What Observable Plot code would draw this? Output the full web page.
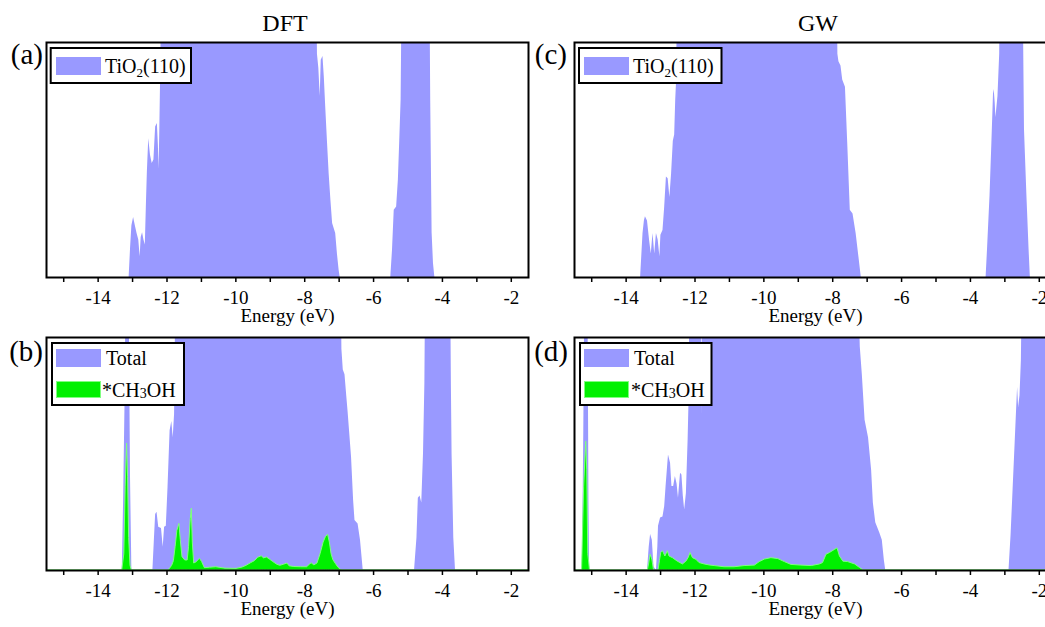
<!DOCTYPE html>
<html>
<head>
<meta charset="utf-8">
<script src="https://cdn.jsdelivr.net/npm/d3@7"></script>
<script src="https://cdn.jsdelivr.net/npm/@observablehq/plot@0.6"></script>
<style>
html, body { margin: 0; padding: 0; background: #fff; overflow: hidden; }
#fig { position: relative; width: 1045px; height: 627px; overflow: hidden; font-family: 'Liberation Serif', serif; }
.p { position: absolute; width: 540px; height: 332px; }
.p svg { max-width: none !important; width: 540px; height: 332px; background: transparent !important; }
.p svg text { font-family: 'Liberation Serif', serif !important; font-size: 19px !important; fill: #000; }
#overlay { position: absolute; left: 0; top: 0; pointer-events: none; }
#overlay text { font-family: 'Liberation Serif', serif; fill: #000; }
</style>
</head>
<body>
<div id="fig">
  <div class="p" id="pa" style="left:0;top:0"></div>
  <div class="p" id="pc" style="left:527.5px;top:0"></div>
  <div class="p" id="pb" style="left:0;top:295px"></div>
  <div class="p" id="pd" style="left:527.5px;top:295px"></div>
  <svg id="overlay" width="1045" height="627">
    <text x="285" y="31" text-anchor="middle" font-size="24">DFT</text>
    <text x="818" y="31" text-anchor="middle" font-size="24">GW</text>
    <text x="43" y="64" text-anchor="end" font-size="29">(a)</text>
    <text x="43" y="361" text-anchor="end" font-size="29">(b)</text>
    <text x="567" y="64" text-anchor="end" font-size="29">(c)</text>
    <text x="568" y="361" text-anchor="end" font-size="29">(d)</text>
    <!-- legend a -->
    <rect x="50.7" y="48" width="140.3" height="35" fill="#fff" stroke="#000" stroke-width="2"/>
    <rect x="56" y="57" width="45" height="18" fill="#9999ff"/>
    <text x="105" y="73" font-size="20">TiO<tspan font-size="13" dy="4">2</tspan><tspan dy="-4">(110)</tspan></text>
    <!-- legend c -->
    <rect x="579" y="48" width="142.5" height="35" fill="#fff" stroke="#000" stroke-width="2"/>
    <rect x="584" y="57" width="45" height="18" fill="#9999ff"/>
    <text x="633" y="73" font-size="20">TiO<tspan font-size="13" dy="4">2</tspan><tspan dy="-4">(110)</tspan></text>
    <!-- legend b -->
    <rect x="52" y="343" width="132" height="62" fill="#fff" stroke="#000" stroke-width="2"/>
    <rect x="56" y="349" width="45" height="18" fill="#9999ff"/>
    <rect x="56.5" y="381.5" width="44" height="16" fill="#00f000" stroke="#80ff80" stroke-width="1"/>
    <text x="106" y="365" font-size="20">Total</text>
    <text x="102" y="397" font-size="20">*CH<tspan font-size="14" dy="1">3</tspan><tspan dy="-1">OH</tspan></text>
    <!-- legend d -->
    <rect x="580" y="343" width="131.5" height="62" fill="#fff" stroke="#000" stroke-width="2"/>
    <rect x="584" y="349" width="45" height="18" fill="#9999ff"/>
    <rect x="584.5" y="381.5" width="44" height="16" fill="#00f000" stroke="#80ff80" stroke-width="1"/>
    <text x="634" y="365" font-size="20">Total</text>
    <text x="631" y="397" font-size="20">*CH<tspan font-size="14" dy="1">3</tspan><tspan dy="-1">OH</tspan></text>
  </svg>
</div>
<script>
// Energy (eV), DOS (arbitrary units; frame top = 100, larger values are clipped)
const dftSlab = [[-15.5,0],[-13.10,0],[-13.06,12],[-13.02,22],[-12.97,25.5],[-12.92,22],[-12.87,18.7],[-12.82,16],[-12.78,8.8],[-12.75,17],[-12.71,19],[-12.67,16],[-12.63,13.8],[-12.60,30],[-12.57,45],[-12.53,59],[-12.48,52],[-12.43,48.5],[-12.38,50],[-12.33,64],[-12.28,65.5],[-12.25,56],[-12.23,46],[-12.21,62],[-12.18,90],[-12.15,140],[-7.66,140],[-7.63,95],[-7.59,89],[-7.55,77],[-7.52,92.5],[-7.47,94],[-7.43,85],[-7.39,72.6],[-7.34,58],[-7.29,44],[-7.24,33],[-7.19,23],[-7.10,18.7],[-7.05,10],[-7.00,3],[-6.97,0],[-5.50,0],[-5.45,11.6],[-5.40,28.6],[-5.33,30],[-5.28,41.4],[-5.24,58],[-5.20,75.5],[-5.16,140],[-4.37,140],[-4.34,75],[-4.30,19],[-4.26,6],[-4.22,0],[-1.5,0]];

const gwSlab = [[-15.5,0],[-13.58,0],[-13.55,8],[-13.51,18.7],[-13.47,24],[-13.44,25.8],[-13.38,24],[-13.32,15.9],[-13.27,10],[-13.22,18.7],[-13.17,10],[-13.12,18.7],[-13.07,16],[-13.02,8.8],[-12.99,18],[-12.93,20],[-12.88,30],[-12.83,42.8],[-12.78,42],[-12.73,34],[-12.68,44],[-12.63,58],[-12.59,60.6],[-12.56,75.5],[-12.53,85],[-12.51,140],[-7.88,140],[-7.85,95],[-7.82,91.8],[-7.76,90],[-7.71,84],[-7.63,81],[-7.56,55.6],[-7.49,28.6],[-7.41,27],[-7.32,18.7],[-7.24,8.8],[-7.17,0],[-3.545,0],[-3.50,13],[-3.43,35],[-3.38,56],[-3.33,78],[-3.31,80],[-3.28,74],[-3.26,68],[-3.20,77],[-3.15,95],[-3.13,140],[-2.48,140],[-2.43,63],[-2.36,35],[-2.30,13],[-2.26,0],[-1.5,0]];

const dftTotal = [[-15.5,0],[-13.30,0],[-13.26,30],[-13.22,71],[-13.19,120],[-13.10,120],[-13.06,40],[-13.02,0],[-12.41,0],[-12.37,12],[-12.33,24],[-12.29,25],[-12.24,18.6],[-12.16,18],[-12.11,10],[-12.07,18.6],[-12.02,19],[-11.97,35.7],[-11.91,60],[-11.86,64],[-11.82,57],[-11.78,67],[-11.76,90],[-11.75,140],[-6.95,140],[-6.92,95],[-6.88,86],[-6.83,84],[-6.78,75],[-6.74,68],[-6.64,48.6],[-6.58,30],[-6.54,21.5],[-6.45,20],[-6.38,13],[-6.30,0],[-4.81,0],[-4.74,14],[-4.70,31],[-4.65,32],[-4.60,29],[-4.55,50],[-4.51,80],[-4.48,140],[-3.77,140],[-3.74,80],[-3.72,50],[-3.67,14],[-3.62,0],[-1.5,0]];

const dftMethanol = [[-15.5,0],[-13.30,0],[-13.24,7],[-13.20,36],[-13.16,54.5],[-13.13,40],[-13.10,14],[-13.06,2],[-13.02,0],[-11.96,0],[-11.90,1],[-11.85,2],[-11.80,4],[-11.75,10],[-11.70,17],[-11.64,20],[-11.60,13],[-11.55,5.7],[-11.47,4.3],[-11.40,4.3],[-11.36,10],[-11.31,22],[-11.28,26.5],[-11.25,12],[-11.21,3],[-11.14,3.5],[-11.08,4.5],[-11.04,5],[-10.98,3.6],[-10.90,1],[-10.75,1.2],[-10.57,1.4],[-10.30,0.8],[-9.98,0.7],[-9.80,1.3],[-9.69,2],[-9.55,3.2],[-9.45,4],[-9.35,5.5],[-9.25,6.1],[-9.18,5.2],[-9.10,5.6],[-9.02,4.8],[-8.91,3.6],[-8.80,2.5],[-8.71,2],[-8.60,2.5],[-8.50,3],[-8.44,1.8],[-8.30,1.5],[-8.10,1.4],[-7.93,1.4],[-7.85,2.5],[-7.80,3.1],[-7.72,2.2],[-7.63,3],[-7.54,7],[-7.45,12],[-7.38,14.5],[-7.32,15.3],[-7.27,12],[-7.22,7],[-7.17,4.5],[-7.10,2.9],[-7.02,1.2],[-6.95,0.3],[-6.90,0],[-1.5,0]];

const gwTotal = [[-15.5,0],[-15.27,0],[-15.23,60],[-15.20,120],[-15.11,120],[-15.08,30],[-15.06,0],[-13.38,0],[-13.33,10],[-13.29,15.4],[-13.24,13],[-13.19,1.5],[-13.12,0],[-13.08,10],[-13.06,19],[-13.00,22.5],[-12.93,23],[-12.88,27.5],[-12.84,36],[-12.77,49.6],[-12.71,46],[-12.67,36],[-12.62,36],[-12.57,40.3],[-12.52,37],[-12.48,31],[-12.42,41.7],[-12.38,41],[-12.34,32],[-12.30,26],[-12.25,33],[-12.20,56],[-12.17,75],[-12.14,140],[-11.82,140],[-11.80,66],[-11.78,140],[-7.27,140],[-7.20,96],[-7.14,84],[-7.06,64.5],[-6.96,57],[-6.87,43],[-6.82,29],[-6.75,20.5],[-6.63,16],[-6.56,13],[-6.50,4.3],[-6.46,0],[-2.88,0],[-2.82,15],[-2.76,35],[-2.70,55],[-2.65,72],[-2.63,78.5],[-2.60,70],[-2.56,75],[-2.52,90],[-2.48,140],[-1.5,140]];

const gwMethanol = [[-15.5,0],[-15.28,0],[-15.22,36],[-15.16,55.3],[-15.13,43],[-15.10,7],[-15.05,0],[-13.37,0],[-13.33,3],[-13.29,6.8],[-13.24,4.7],[-13.19,0],[-13.06,0],[-13.02,4],[-12.98,7.5],[-12.93,8.3],[-12.86,6],[-12.79,8.3],[-12.74,6],[-12.64,5.3],[-12.50,3.8],[-12.35,2.6],[-12.25,3.8],[-12.18,5.5],[-12.13,7.5],[-12.06,5.3],[-11.96,4.6],[-11.87,3.2],[-11.72,2.6],[-11.55,2.1],[-11.43,1.9],[-11.14,1.4],[-10.85,1.4],[-10.56,1.9],[-10.26,2.1],[-10.12,3.6],[-9.97,4.7],[-9.78,5.3],[-9.58,4.9],[-9.39,3.6],[-9.20,2.4],[-8.91,2.1],[-8.61,1.9],[-8.37,2.6],[-8.28,3.2],[-8.18,6.8],[-8.08,7.5],[-7.94,8.8],[-7.86,9.5],[-7.79,6],[-7.69,3.8],[-7.55,3.6],[-7.35,2.6],[-7.21,1.1],[-7.10,0],[-1.5,0]];

const energyDomain = [-15.5, -1.5];
const tickValues = d3.range(-15, -1);
const labelTicks = [-14, -12, -10, -8, -6, -4, -2];
const xLabel = "Energy (eV)";

const FONT = "'Liberation Serif', serif";
const BLUE = "#9999ff", GREEN = "#00f000", GREEN_EDGE = "#80ff80";

function panel(totalData, methanolData, frameHeight, marginTop) {
  const height = 332;
  const marks = [
    Plot.areaY(totalData, {x: d => d[0], y: d => d[1], fill: BLUE, clip: true})
  ];
  if (methanolData) {
    marks.push(Plot.areaY(methanolData, {x: d => d[0], y: d => d[1], fill: GREEN, stroke: GREEN_EDGE, strokeWidth: 1, clip: true}));
  }
  marks.push(
    Plot.frame({stroke: "#000", strokeWidth: 2}),
    Plot.axisX({ticks: tickValues, tickSize: 5, tickPadding: 8, strokeWidth: 1.5,
      tickFormat: d => labelTicks.includes(d) ? String(d) : "", fontSize: 19, fontFamily: FONT, fill: "#000"}),
    Plot.text([xLabel], {text: d => d, frameAnchor: "bottom", dy: 44, fontSize: 19, fontFamily: FONT, fill: "#000"})
  );
  const svg = Plot.plot({
    width: 540, height,
    marginLeft: 46, marginRight: 12, marginTop, marginBottom: height - marginTop - frameHeight,
    x: {domain: energyDomain},
    y: {domain: [0, 100], axis: null},
    style: {background: "transparent", fontFamily: FONT, fontSize: "19px", color: "#000", maxWidth: "none"},
    marks
  });
  svg.setAttribute("font-family", FONT);
  return svg;
}

document.getElementById("pa").appendChild(panel(dftSlab, null, 235, 42));
document.getElementById("pc").appendChild(panel(gwSlab, null, 235, 42));
document.getElementById("pb").appendChild(panel(dftTotal, dftMethanol, 233, 42));
document.getElementById("pd").appendChild(panel(gwTotal, gwMethanol, 233, 42));
</script>
</body>
</html>
